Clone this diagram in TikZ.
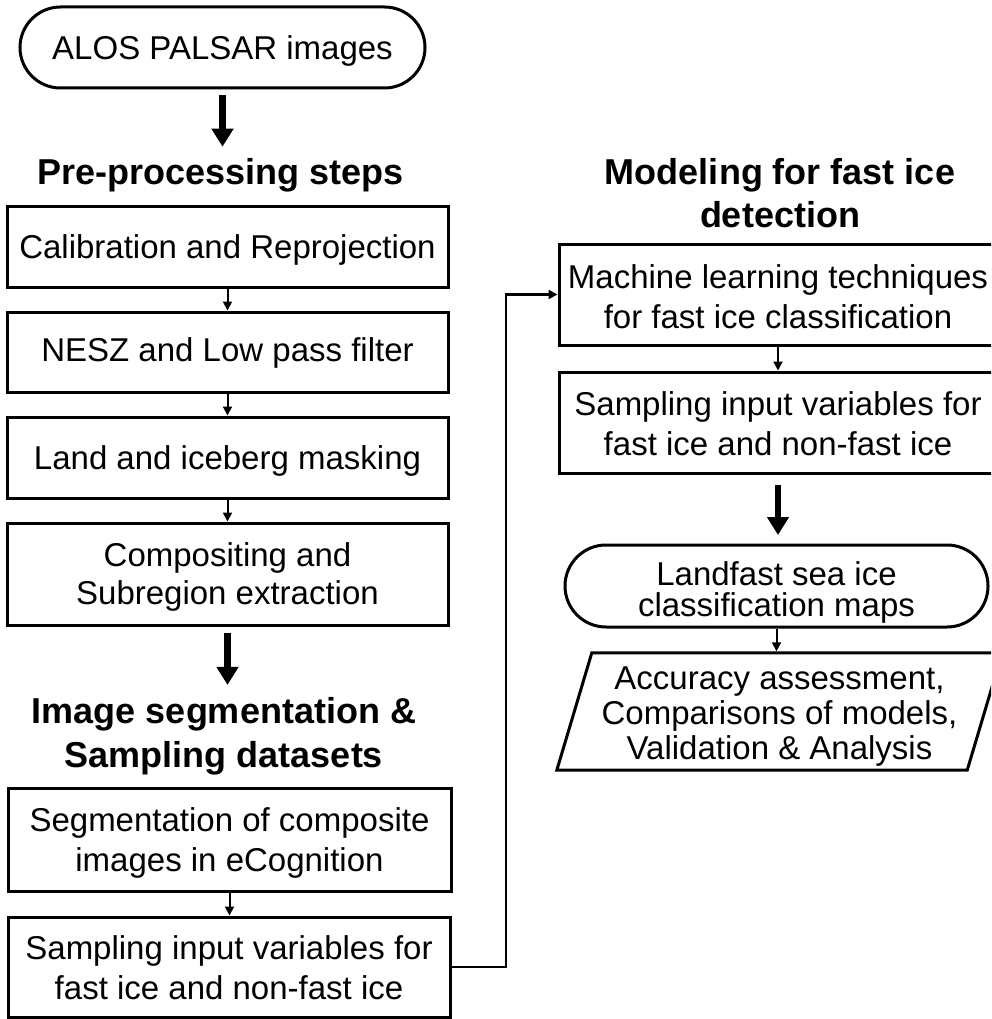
\documentclass[tikz,border=0pt]{standalone}
\usepackage{fontspec}
\setmainfont{Liberation Sans}
\usetikzlibrary{arrows.meta,shapes.misc}

% strut at the start of a first line: lowers a centred text block by #1
\newcommand\txtdown[1]{\rule{0pt}{\dimexpr 24pt+2\dimexpr #1\relax\relax}}

\begin{document}
\begin{tikzpicture}[x=1pt,y=-1pt,
  procbox/.style={draw, line width=3pt, rectangle, inner sep=2pt,
    minimum width=441pt, minimum height=81pt, align=center,
    font=\fontsize{33}{40}\selectfont},
  termbox/.style={draw, line width=3pt, rounded rectangle, inner sep=2pt,
    align=center, font=\fontsize{33}{40}\selectfont},
  oneline/.style={text height=24pt, text depth=0pt},
  heading/.style={inner sep=0pt, align=center,
    font=\fontsize{36}{44}\selectfont\bfseries},
  flow/.style={line width=2pt, -{Triangle[width=9pt,length=9pt]}},
  bigflow/.style={line width=6.5pt, -{Triangle[width=21pt,length=18pt]}},
  link/.style={line width=2.5pt, line join=miter, -{Triangle[width=9pt,length=9pt]}}]

\useasboundingbox (0,0) rectangle (991,1019);
\fill[white] (0,0) rectangle (991,1019);
\clip (0,0) rectangle (991,1019);

% ---------- left column: pre-processing ----------
\node[termbox, oneline, minimum width=409pt, minimum height=81pt] (alos) at (222.5,47.5) {ALOS PALSAR images};
\node[heading, anchor=base] (pretitle) at (220.5,185) {Pre-processing steps};
\node[procbox, oneline] (calib) at (227.5,246.5) {Calibration and Reprojection};
\node[procbox, minimum height=80pt, text height=24pt, text depth=4.5pt] (nesz) at (227.5,352) {NESZ and Low pass filter};
\node[procbox, oneline] (land) at (227.5,457.5) {Land and iceberg masking};
\node[procbox, minimum height=102pt, font=\fontsize{33}{38}\selectfont] (comp) at (227.5,574)
  {\txtdown{3pt}Compositing and\\Subregion extraction};

% ---------- left column: segmentation and sampling ----------
\node[heading] (segtitle) at (224,736.5) {Image segmentation \&\\Sampling datasets};
\node[procbox, minimum width=443pt, minimum height=103pt] (seg) at (229.5,839.5)
  {\txtdown{3pt}Segmentation of composite\\images in eCognition};
\node[procbox, minimum width=442pt, minimum height=100pt] (samp) at (229,967)
  {\txtdown{1pt}Sampling input variables for\\fast ice and non-fast ice};

% ---------- right column: modelling ----------
\node[heading, font=\fontsize{36}{43}\selectfont\bfseries] (modtitle) at (780,193.5)
  {Modeling for fast ice\\detection};
\node[procbox, minimum width=438pt, minimum height=101pt] (ml) at (778,294.5)
  {\txtdown{2pt}Machine learning techniques\\for fast ice classification};
\node[procbox, minimum width=438pt, minimum height=101pt] (samp2) at (778,422.5)
  {\txtdown{1pt}Sampling input variables for\\fast ice and non-fast ice};
\node[termbox, minimum width=427pt, minimum height=82pt, font=\fontsize{33}{31}\selectfont] (land2) at (776.5,586)
  {\txtdown{6pt}Landfast sea ice\\classification maps};
\node[inner sep=0pt, align=center, minimum width=410pt, minimum height=117pt,
  font=\fontsize{33}{35}\selectfont] (acc) at (779.5,711.5)
  {\txtdown{4pt}Accuracy assessment,\\Comparisons of models,\\Validation \& Analysis};
\draw[line width=3pt, line join=miter]
  ([xshift=17.5pt]acc.north west) -- ([xshift=17.5pt]acc.north east)
  -- ([xshift=-17.5pt]acc.south east) -- ([xshift=-17.5pt]acc.south west) -- cycle;

% ---------- connectors ----------
\draw[bigflow, shorten <=6pt, shorten >=12pt] (alos.south) -- (alos.south |- pretitle.north);
\draw[flow] (calib.south) -- (nesz.north);
\draw[flow] (nesz.south) -- (land.north);
\draw[flow] (land.south) -- (comp.north);
\draw[bigflow, shorten <=6.5pt, shorten >=12.5pt] (comp.south) -- (comp.south |- segtitle.north);
\draw[flow] (seg.south) -- (seg.south |- samp.north);

\coordinate (bend) at (506,0);
\draw[link] (samp.east) -- (samp.east -| bend) -- (bend |- ml.west) -- (ml.west);

\draw[flow] (ml.south) -- (samp2.north);
\draw[bigflow, shorten <=10.5pt, shorten >=8.5pt] (samp2.south) -- (samp2.south |- land2.north);
\draw[flow, shorten >=1.5pt] (land2.south) -- (land2.south |- acc.north);

\end{tikzpicture}
\end{document}
